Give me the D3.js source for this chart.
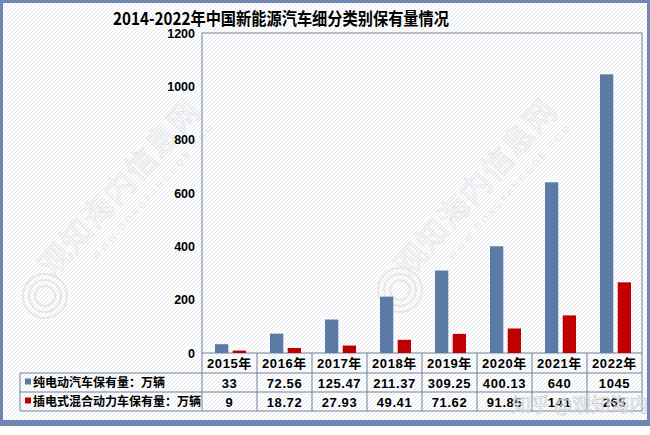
<!DOCTYPE html>
<html>
<head>
<meta charset="utf-8">
<script src="https://cdn.jsdelivr.net/npm/d3@7"></script>
<style>
  html, body { margin: 0; padding: 0; background: #fff; }
  svg { display: block; }
</style>
</head>
<body>
<div id="chart"></div>
<script>
// data
const years = ['2015年', '2016年', '2017年', '2018年', '2019年', '2020年', '2021年', '2022年'];
const bevValues = [33, 72.56, 125.47, 211.37, 309.25, 400.13, 640, 1045];
const phevValues = [9, 18.72, 27.93, 49.41, 71.62, 91.85, 141, 265];
const bevLabels = ['33', '72.56', '125.47', '211.37', '309.25', '400.13', '640', '1045'];
const phevLabels = ['9', '18.72', '27.93', '49.41', '71.62', '91.85', '141', '265'];
const seriesNames = ['纯电动汽车保有量：万辆', '插电式混合动力车保有量：万辆'];
const seriesColors = ['#5b7aa6', '#c00000'];
const yTicks = [0, 200, 400, 600, 800, 1000, 1200];

const width = 650, height = 435;
const plot = { left: 202, right: 642, top: 33, bottom: 353 };
const rowH = [20, 19, 19];
const legendLeft = 20;
const lineColor = '#70819c';
const cjk = '"Noto Sans CJK SC", "Microsoft YaHei", sans-serif';
const num = '"Liberation Sans", Arial, "Noto Sans CJK SC", sans-serif';

const svg = d3.select('#chart').append('svg')
  .attr('width', width)
  .attr('height', height);

// hatched background
const defs = svg.append('defs');
const pat = defs.append('pattern')
  .attr('id', 'hatch')
  .attr('patternUnits', 'userSpaceOnUse')
  .attr('width', 4)
  .attr('height', 4);
pat.append('rect').attr('width', 4).attr('height', 4).attr('fill', '#ffffff');
pat.append('path')
  .attr('d', 'M-1,1 l2,-2 M0,4 l4,-4 M3,5 l2,-2')
  .attr('stroke', '#e3e7ec')
  .attr('stroke-width', 1);

// frame
svg.append('rect')
  .attr('x', 0).attr('y', 0)
  .attr('width', width).attr('height', 426)
  .attr('fill', '#7087b3');
svg.append('rect')
  .attr('x', 3).attr('y', 3)
  .attr('width', width - 6).attr('height', 417)
  .attr('fill', 'url(#hatch)');

// watermarks
function watermark(cx, cy, ringX, ringY) {
  const g = svg.append('g').attr('transform', `translate(${cx},${cy}) rotate(-48)`);
  g.append('text')
    .attr('text-anchor', 'middle')
    .attr('font-family', cjk)
    .attr('font-size', 31)
    .attr('letter-spacing', 1)
    .attr('fill', 'none')
    .attr('stroke', '#dfe2e6')
    .attr('stroke-width', 0.7)
    .text('观知海内信息网');
  g.append('text')
    .attr('y', 20)
    .attr('x', 20)
    .attr('text-anchor', 'middle')
    .attr('font-family', num)
    .attr('font-size', 9)
    .attr('letter-spacing', 3)
    .attr('fill', '#e4e7ea')
    .text('WWW.DONGFANGGOB.COM');
  const r = svg.append('g').attr('transform', `translate(${ringX},${ringY})`);
  [22, 16, 10].forEach(rad => {
    r.append('circle').attr('r', rad)
      .attr('fill', 'none')
      .attr('stroke', '#e4e7ea')
      .attr('stroke-width', 2);
  });
}
watermark(128, 195, 45, 296);
watermark(484, 195, 400, 290);

// scales
const x = d3.scaleBand().domain(years).range([plot.left, plot.right]);
const inner = d3.scaleBand().domain([0, 1]).range([13, 44]).paddingInner(0.25);
const y = d3.scaleLinear().domain([0, 1200]).range([plot.bottom, plot.top]);

// plot border
svg.append('rect')
  .attr('x', plot.left).attr('y', plot.top)
  .attr('width', plot.right - plot.left)
  .attr('height', plot.bottom - plot.top)
  .attr('fill', 'none')
  .attr('stroke', lineColor)
  .attr('stroke-width', 1);

// y axis
const yAxis = svg.append('g')
  .attr('transform', `translate(${plot.left},0)`)
  .call(d3.axisLeft(y).tickValues(yTicks).tickFormat(d3.format('d')).tickSize(0).tickPadding(7));
yAxis.select('.domain').remove();
yAxis.selectAll('text')
  .attr('font-family', num)
  .attr('font-size', 12.5)
  .attr('font-weight', 'bold')
  .attr('fill', '#000');

// bars
const series = [bevValues, phevValues];
series.forEach((vals, si) => {
  svg.append('g').selectAll('rect')
    .data(vals)
    .join('rect')
    .attr('x', (d, i) => x(years[i]) + inner(si))
    .attr('y', d => y(d))
    .attr('width', inner.bandwidth())
    .attr('height', d => y(0) - y(d))
    .attr('fill', seriesColors[si]);
});

// data table
const rowY = [plot.bottom];
rowH.forEach(h => rowY.push(rowY[rowY.length - 1] + h));
const table = svg.append('g')
  .attr('stroke', lineColor)
  .attr('stroke-width', 1)
  .attr('fill', 'none');
[1, 2, 3].forEach(r => {
  table.append('line')
    .attr('x1', legendLeft).attr('x2', plot.right)
    .attr('y1', rowY[r]).attr('y2', rowY[r]);
});
table.append('line')
  .attr('x1', legendLeft).attr('x2', legendLeft)
  .attr('y1', rowY[1]).attr('y2', rowY[3]);
table.selectAll('line.col')
  .data(years.concat(['end']))
  .join('line')
  .attr('class', 'col')
  .attr('x1', d => d === 'end' ? plot.right : x(d))
  .attr('x2', d => d === 'end' ? plot.right : x(d))
  .attr('y1', plot.bottom)
  .attr('y2', rowY[3]);

// header
svg.append('g').selectAll('text')
  .data(years)
  .join('text')
  .attr('x', d => x(d) + x.bandwidth() / 2)
  .attr('y', (rowY[0] + rowY[1]) / 2 + 5)
  .attr('text-anchor', 'middle')
  .attr('font-family', num)
  .attr('font-size', 13)
  .attr('font-weight', 'bold')
  .attr('letter-spacing', 0.6)
  .attr('fill', '#000')
  .text(d => d);

// value rows
[bevLabels, phevLabels].forEach((labels, si) => {
  const cy = (rowY[si + 1] + rowY[si + 2]) / 2 + 5;
  svg.append('g').selectAll('text')
    .data(labels)
    .join('text')
    .attr('x', (d, i) => x(years[i]) + x.bandwidth() / 2)
    .attr('y', cy)
    .attr('text-anchor', 'middle')
    .attr('font-family', num)
    .attr('font-size', 13)
    .attr('font-weight', 'bold')
    .attr('letter-spacing', 0.6)
    .attr('fill', '#000')
    .text(d => d);
  svg.append('rect')
    .attr('x', 25)
    .attr('y', cy - 9)
    .attr('width', 6)
    .attr('height', 6)
    .attr('fill', seriesColors[si]);
  svg.append('text')
    .attr('x', 33)
    .attr('y', cy - 1)
    .attr('font-family', cjk)
    .attr('font-size', 12)
    .attr('font-weight', 'bold')
    .attr('fill', '#000')
    .text(seriesNames[si]);
});

// title
svg.append('text')
  .attr('x', 113)
  .attr('y', 25)
  .attr('font-family', cjk)
  .attr('font-size', 17.5)
  .attr('font-weight', 'bold')
  .attr('textLength', 336)
  .attr('lengthAdjust', 'spacingAndGlyphs')
  .attr('fill', '#000')
  .text('2014-2022年中国新能源汽车细分类别保有量情况');

// zhihu mark
svg.append('text')
  .attr('x', 512)
  .attr('y', 412)
  .attr('font-family', cjk)
  .attr('font-size', 19)
  .attr('fill', '#ffffff')
  .attr('fill-opacity', 0.5)
  .attr('stroke', '#c4c8cd')
  .attr('stroke-width', 0.6)
  .text('知乎 @观知海内');
</script>
</body>
</html>
